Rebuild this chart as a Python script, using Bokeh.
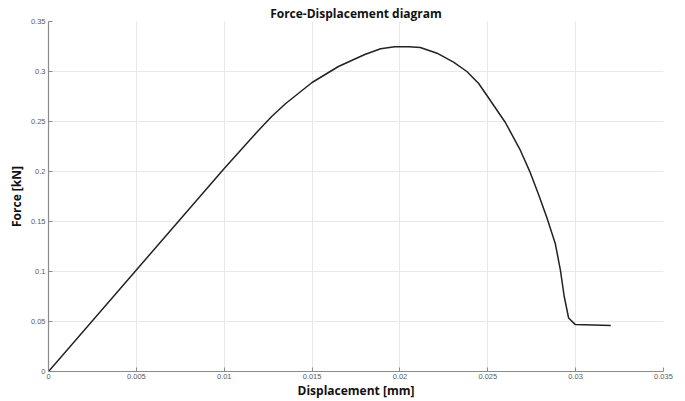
from bokeh.plotting import figure
from bokeh.models import Range1d, FixedTicker, ColumnDataSource
from bokeh.embed import file_html
from bokeh.resources import INLINE

# ---- data ----
displacement = [0.0, 0.0050, 0.0100, 0.0120, 0.0127, 0.0135, 0.0150, 0.0165,
                0.0180, 0.0189, 0.0197, 0.0205, 0.02116, 0.02211, 0.02305,
                0.02381, 0.02448, 0.02501, 0.0260, 0.02685, 0.02738, 0.02789,
                0.02837, 0.02884, 0.02913, 0.02935, 0.0296, 0.02998, 0.0320]
force = [0.0, 0.1015, 0.2030, 0.2420, 0.2550, 0.2680, 0.2890, 0.3050,
         0.3170, 0.3228, 0.3248, 0.3248, 0.3240, 0.3183, 0.3094,
         0.3000, 0.2880, 0.2745, 0.2490, 0.2213, 0.2004, 0.1770,
         0.1535, 0.1280, 0.1017, 0.0750, 0.0535, 0.0469, 0.0459]

x_ticks = [0, 0.005, 0.01, 0.015, 0.02, 0.025, 0.03, 0.035]
x_tick_labels = ["0", "0.005", "0.01", "0.015", "0.02", "0.025", "0.03", "0.035"]
y_ticks = [0, 0.05, 0.1, 0.15, 0.2, 0.25, 0.3, 0.35]
y_tick_labels = ["0", "0.05", "0.1", "0.15", "0.2", "0.25", "0.3", "0.35"]

title_text = "Force-Displacement diagram"
x_label = "Displacement [mm]"
y_label = "Force [kN]"

src = ColumnDataSource(dict(x=displacement, y=force))

p = figure(width=685, height=401, output_backend="svg", toolbar_location=None,
           x_range=Range1d(0, 0.035), y_range=Range1d(0, 0.35),
           min_border_left=48, min_border_right=22, min_border_top=21,
           min_border_bottom=29, title=title_text)
p.outline_line_color = None
p.background_fill_color = "white"
p.border_fill_color = "white"

p.title.text_font = "Open Sans"
p.title.text_font_size = "12px"
p.title.text_font_style = "bold"
p.title.text_color = "#111111"
p.title.align = "center"
p.title.offset = 8
p.title.standoff = 0

p.line("x", "y", source=src, line_color="#222222", line_width=1.5)

tick_font = "Liberation Sans"
for ax, ticks, labels in ((p.xaxis[0], x_ticks, x_tick_labels),
                          (p.yaxis[0], y_ticks, y_tick_labels)):
    ax.ticker = FixedTicker(ticks=ticks)
    ax.major_label_overrides = {t: l for t, l in zip(ticks, labels)}
    ax.minor_tick_line_color = None
    ax.major_tick_in = 4
    ax.major_tick_out = 0
    ax.major_tick_line_color = "#8a8a8a"
    ax.axis_line_color = "#8a8a8a"
    ax.axis_line_width = 1.2
    ax.major_label_text_font = tick_font
    ax.major_label_text_font_size = "7.5px"
    ax.major_label_text_color = "#5a5a5a"
    ax.major_label_standoff = 3
    ax.axis_label_text_font = "Open Sans"
    ax.axis_label_text_font_size = "12px"
    ax.axis_label_text_font_style = "bold"
    ax.axis_label_text_color = "#111111"

p.xaxis[0].axis_label = x_label
p.xaxis[0].axis_label_standoff = 0
p.xaxis[0].major_label_standoff = 2
p.yaxis[0].axis_label = y_label
p.yaxis[0].axis_label_standoff = 3

p.xgrid.ticker = FixedTicker(ticks=x_ticks)
p.ygrid.ticker = FixedTicker(ticks=y_ticks)
p.grid.grid_line_color = "#e8e8e8"
p.grid.grid_line_width = 1

open("out.html", "w").write(file_html(p, INLINE))
